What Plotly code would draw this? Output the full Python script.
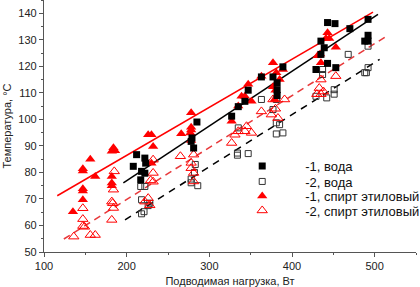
import plotly.graph_objects as go

# Series 1: filled squares  (-1, вода)
water1_x = [212, 208, 218, 217, 222, 222, 223, 278, 281, 279, 285, 327, 335, 343, 347, 363, 377, 382, 382, 382,
            389, 443, 452, 470, 435, 439, 435, 429, 443, 453, 492, 492, 492, 488]
water1_y = [86.7, 82.3, 80.4, 77.2, 85.4, 79.7, 83.5, 91.7, 89.2, 93, 99.0, 101.2, 104.8, 106.8, 111, 116, 116,
            113.8, 111.2, 109, 119.8, 136.5, 136.1, 134.2, 129.5, 127, 124.5, 118.8, 121.1, 119.5, 137.7, 131.7,
            129.5, 129.5]

# Series 2: open squares  (-2, вода)
water2_x = [217, 222, 218, 218, 221, 228, 226, 278, 278, 286, 282, 283, 334, 334, 347, 335, 363, 381, 377, 381,
            385, 389, 381, 437, 437, 429, 442, 451, 451, 468, 492, 492, 490, 488]
water2_y = [74.7, 74.7, 69.7, 64.4, 65.2, 68.4, 67.5, 77.5, 76.1, 75, 80, 83, 87.3, 86.5, 87.1, 96.8, 107.5,
            107.5, 103.7, 98.7, 98, 94.9, 94.5, 118.8, 116.9, 108.7, 108.1, 111.2, 109.5, 124.5, 127.6, 119.5,
            117.6, 117.6]

# Series 3: filled triangles  (-1, спирт этиловый)
eth1_x = [135, 147, 147, 147, 147, 147, 156, 162, 182, 184, 186, 184, 182, 182, 182, 226, 230, 232, 230, 266,
          278, 278, 278, 277, 278, 327, 335, 339, 343, 351, 347, 363, 377, 381, 385, 377, 380, 379, 389, 443,
          441, 445, 453, 434, 431, 435]
eth1_y = [65.2, 81.4, 80.5, 73.8, 73, 69.7, 85, 78.5, 88, 88.5, 88.2, 89.3, 78.5, 76, 75, 94.2, 94.2, 89.8,
          83.5, 94.6, 102.5, 97, 96, 94.9, 92, 99.3, 105, 108.7, 108.7, 106.8, 113.2, 116.3, 121.3, 117.6, 115,
          112.3, 111, 107.5, 118.8, 132.7, 130.5, 130.5, 127.2, 124.6, 124, 121.3]

# Series 4: open triangles  (-2, спирт этиловый)
eth2_x = [136, 147, 147, 147, 149, 156, 162, 182, 182, 183, 184, 185, 184, 232, 232, 232, 229, 222, 226, 228,
          265, 278, 278, 281, 281, 281, 327, 331, 335, 343, 345, 351, 363, 375, 383, 377, 391, 380, 435, 453,
          433, 435, 438, 430]
eth2_y = [55.8, 66.5, 62.4, 59.8, 59.5, 56.4, 56.4, 62.1, 69, 68.4, 73.5, 80.4, 66.6, 84.8, 79.8, 76.5, 77,
          69, 70.3, 67.6, 86.1, 83.6, 81.6, 86.7, 79.8, 76.6, 91.1, 94.2, 95.5, 95.5, 97.4, 94.9, 103, 101.8,
          100.5, 107.5, 107.5, 104, 115, 116.3, 111.8, 109.5, 110.5, 109.5]

# Linear fits (endpoints)
fit_w1_x = [196, 504]
fit_w1_y = [76.1, 139.6]
fit_w2_x = [198, 506]
fit_w2_y = [62.1, 122.6]
fit_e1_x = [116, 498]
fit_e1_y = [71.2, 140.4]
fit_e2_x = [124, 514]
fit_e2_y = [54.9, 131.3]

names = ["-1, вода", "-2, вода", "-1, спирт этиловый", "-2, спирт этиловый"]

RED = "#ff0000"
BLACK = "#000000"
FONT = "Liberation Sans, Arial, sans-serif"

fig = go.Figure()

# fit lines
fig.add_trace(go.Scatter(x=fit_e1_x, y=fit_e1_y, mode="lines", line=dict(color=RED, width=1.5), showlegend=False))
fig.add_trace(go.Scatter(x=fit_w1_x, y=fit_w1_y, mode="lines", line=dict(color=BLACK, width=1.5), showlegend=False))
fig.add_trace(go.Scatter(x=fit_e2_x, y=fit_e2_y, mode="lines",
                         line=dict(color="#e8383a", width=1.5, dash="7px,5px"), showlegend=False))
fig.add_trace(go.Scatter(x=fit_w2_x, y=fit_w2_y, mode="lines",
                         line=dict(color=BLACK, width=1.5, dash="7px,6px"), showlegend=False))

fig.add_trace(go.Scatter(x=water2_x, y=water2_y, mode="markers", name=names[1], legend="legend2",
                         marker=dict(symbol="square-open", size=6, color="#333333", line=dict(width=1))))
fig.add_trace(go.Scatter(x=eth2_x, y=eth2_y, mode="markers", name=names[3], legend="legend4",
                         marker=dict(symbol="triangle-up-open", size=9, color=RED, line=dict(width=1))))
fig.add_trace(go.Scatter(x=eth1_x, y=eth1_y, mode="markers", name=names[2], legend="legend3",
                         marker=dict(symbol="triangle-up", size=9, color=RED)))
fig.add_trace(go.Scatter(x=water1_x, y=water1_y, mode="markers", name=names[0], legend="legend",
                         marker=dict(symbol="square", size=7, color=BLACK)))

legend_font = dict(family=FONT, size=13, color="#111111")
leg_common = dict(xanchor="left", yanchor="middle", x=0.471, bgcolor="rgba(0,0,0,0)",
                  font=legend_font, itemwidth=76)
rows = [166, 181.5, 196, 210.5]
fig.update_layout(
    legend=dict(y=(252 - rows[0]) / 252, **leg_common),
    legend2=dict(y=(252 - rows[1]) / 252, **leg_common),
    legend3=dict(y=(252 - rows[2]) / 252, **leg_common),
    legend4=dict(y=(252 - rows[3]) / 252, **leg_common),
)

axis_common = dict(showline=True, linecolor="#555555", linewidth=1.2, ticks="outside", ticklen=4,
                   tickcolor="#555555", showgrid=False, zeroline=False, mirror=False, automargin=False,
                   tickfont=dict(family=FONT, size=11, color="#222222"))

fig.update_xaxes(range=[100, 550], dtick=100, tick0=100,
                 minor=dict(ticks="outside", ticklen=2, dtick=50, tickcolor="#555555"),
                 title=dict(text="Подводимая нагрузка, Вт", standoff=6,
                            font=dict(family=FONT, size=11, color="#222222")),
                 **axis_common)
fig.update_yaxes(range=[50, 145], dtick=10, tick0=50,
                 minor=dict(ticks="outside", ticklen=2, dtick=5, tickcolor="#555555"),
                 title=dict(text="Температура, °C", standoff=4,
                            font=dict(family=FONT, size=11, color="#222222")),
                 **axis_common)

fig.update_layout(width=420, height=287, margin=dict(l=44, r=4, t=0, b=35, autoexpand=False),
                  plot_bgcolor="white", paper_bgcolor="white")

fig.write_html("out.html", config={"displayModeBar": False},
               post_script="document.body.style.margin='0';document.body.style.overflow='hidden';")
